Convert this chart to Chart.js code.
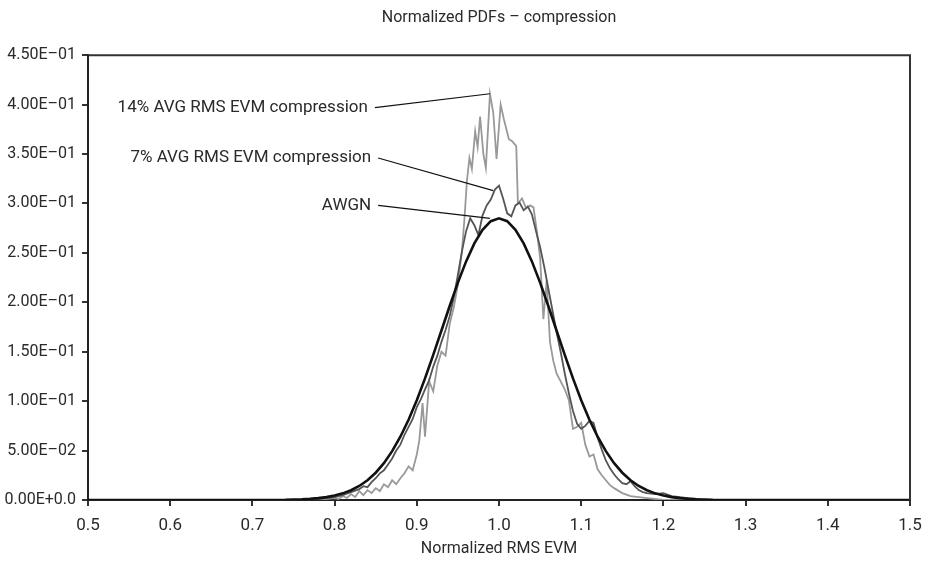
<!DOCTYPE html>
<html>
<head>
<meta charset="utf-8">
<script src="https://cdn.jsdelivr.net/npm/chart.js@4.4.1/dist/chart.umd.min.js"></script>
<style>
  html, body { margin: 0; padding: 0; background: #fff; }
  #wrap { width: 925px; height: 581px; position: relative; }
</style>
</head>
<body>
<div id="wrap"><canvas id="c" width="925" height="581"></canvas></div>
<script>
// --- data ---
var xTickLabels = ['0.5', '0.6', '0.7', '0.8', '0.9', '1.0', '1.1', '1.2', '1.3', '1.4', '1.5'];
var yTickLabels = ['0.00E+0.0', '5.00E\u201302', '1.00E\u201301', '1.50E\u201301', '2.00E\u201301',
  '2.50E\u201301', '3.00E\u201301', '3.50E\u201301', '4.00E\u201301', '4.50E\u201301'];

var awgnX = [0.5, 0.74, 0.75, 0.76, 0.77, 0.78, 0.79, 0.80, 0.81, 0.82, 0.83, 0.84, 0.85, 0.86, 0.87, 0.88, 0.89,
  0.90, 0.91, 0.92, 0.93, 0.94, 0.95, 0.96, 0.97, 0.98, 0.99, 1.00, 1.01, 1.02, 1.03, 1.04, 1.05, 1.06, 1.07,
  1.08, 1.09, 1.10, 1.11, 1.12, 1.13, 1.14, 1.15, 1.16, 1.17, 1.18, 1.19, 1.20, 1.21, 1.22, 1.23, 1.24, 1.25, 1.26, 1.5];
var awgnY = [0, 0.0002, 0.0004, 0.0007, 0.0012, 0.0019, 0.0029, 0.0045, 0.0067, 0.0099, 0.0142, 0.0200, 0.0276,
  0.0373, 0.0494, 0.0640, 0.0812, 0.1010, 0.1230, 0.1468, 0.1715, 0.1963, 0.2199, 0.2414, 0.2596, 0.2734, 0.2821,
  0.2850, 0.2821, 0.2734, 0.2596, 0.2414, 0.2199, 0.1963, 0.1715, 0.1468, 0.1230, 0.1010, 0.0812, 0.0640, 0.0494,
  0.0373, 0.0276, 0.0200, 0.0142, 0.0099, 0.0067, 0.0045, 0.0029, 0.0019, 0.0012, 0.0007, 0.0004, 0.0002, 0];

var evm7X = [0.5, 0.76, 0.78, 0.79, 0.80, 0.81, 0.82, 0.83, 0.835, 0.84, 0.845, 0.85, 0.855, 0.86, 0.865, 0.87,
  0.875, 0.88, 0.885, 0.89, 0.895, 0.90, 0.905, 0.91, 0.915, 0.92, 0.925, 0.93, 0.935, 0.94, 0.945, 0.95, 0.955,
  0.96, 0.965, 0.97, 0.975, 0.98, 0.985, 0.99, 0.995, 1.0, 1.005, 1.01, 1.015, 1.02, 1.025, 1.03, 1.035, 1.04,
  1.045, 1.05, 1.055, 1.06, 1.065, 1.07, 1.075, 1.08, 1.085, 1.09, 1.095, 1.10, 1.105, 1.11, 1.115, 1.12, 1.125,
  1.13, 1.135, 1.14, 1.145, 1.15, 1.155, 1.16, 1.165, 1.17, 1.175, 1.18, 1.19, 1.20, 1.21, 1.22, 1.23, 1.24, 1.25, 1.5];
var evm7Y = [0, 0, 0.001, 0.002, 0.003, 0.005, 0.008, 0.011, 0.014, 0.013, 0.018, 0.022, 0.027, 0.030, 0.036, 0.042,
  0.050, 0.056, 0.066, 0.074, 0.082, 0.094, 0.102, 0.112, 0.121, 0.135, 0.146, 0.160, 0.172, 0.186, 0.205, 0.228, 0.252,
  0.272, 0.285, 0.278, 0.268, 0.288, 0.298, 0.304, 0.314, 0.318, 0.305, 0.290, 0.287, 0.298, 0.301, 0.293, 0.297, 0.289,
  0.272, 0.256, 0.236, 0.214, 0.192, 0.170, 0.150, 0.128, 0.108, 0.090, 0.077, 0.072, 0.075, 0.080, 0.078, 0.063, 0.051,
  0.040, 0.032, 0.026, 0.021, 0.017, 0.016, 0.019, 0.014, 0.010, 0.008, 0.007, 0.006, 0.007, 0.004, 0.003, 0.002, 0.001, 0, 0];

var evm14X = [0.5, 0.78, 0.80, 0.805, 0.81, 0.815, 0.82, 0.825, 0.83, 0.835, 0.84, 0.845, 0.85, 0.855, 0.86, 0.865,
  0.87, 0.875, 0.88, 0.885, 0.89, 0.895, 0.90, 0.903, 0.907, 0.91, 0.915, 0.92, 0.925, 0.93, 0.935, 0.94, 0.945, 0.95,
  0.955, 0.958, 0.961, 0.964, 0.967, 0.971, 0.974, 0.977, 0.981, 0.984, 0.989, 0.993, 0.997, 1.002, 1.006, 1.009,
  1.012, 1.016, 1.021, 1.023, 1.028, 1.033, 1.038, 1.042, 1.046, 1.05, 1.054, 1.058, 1.062, 1.066, 1.07, 1.075, 1.08,
  1.085, 1.09, 1.095, 1.10, 1.105, 1.11, 1.115, 1.12, 1.125, 1.13, 1.135, 1.14, 1.15, 1.16, 1.17, 1.18, 1.19, 1.20, 1.5];
var evm14Y = [0, 0, 0.002, 0.001, 0.004, 0.002, 0.006, 0.003, 0.009, 0.005, 0.010, 0.007, 0.012, 0.009, 0.016, 0.013,
  0.020, 0.016, 0.022, 0.027, 0.034, 0.030, 0.046, 0.060, 0.098, 0.064, 0.120, 0.110, 0.136, 0.150, 0.146, 0.178, 0.195, 0.218,
  0.252, 0.285, 0.323, 0.346, 0.335, 0.373, 0.357, 0.388, 0.350, 0.336, 0.411, 0.392, 0.345, 0.400, 0.385, 0.375,
  0.365, 0.363, 0.358, 0.300, 0.305, 0.295, 0.298, 0.296, 0.272, 0.245, 0.183, 0.222, 0.160, 0.141, 0.128, 0.120, 0.112,
  0.101, 0.072, 0.074, 0.078, 0.056, 0.044, 0.046, 0.031, 0.025, 0.020, 0.015, 0.012, 0.007, 0.004, 0.003, 0.002, 0.001, 0, 0];

// callout labels with leader lines (data coordinates)
var callouts = [
  { text: '14% AVG RMS EVM compression', from: [0.849, 0.397], to: [0.989, 0.411] },
  { text: '7% AVG RMS EVM compression', from: [0.853, 0.346], to: [0.993, 0.313] },
  { text: 'AWGN', from: [0.853, 0.298], to: [0.989, 0.285] }
];

function pts(xs, ys) {
  return xs.map(function (x, i) { return { x: x, y: ys[i] }; });
}

var FONT = 'Roboto, "Liberation Sans", sans-serif';
var INK = '#2a2a2a';

// frame + callouts
var extrasPlugin = {
  id: 'extras',
  afterDatasetsDraw: function (chart) {
    var ctx = chart.ctx, a = chart.chartArea;
    var xs = chart.scales.x, ys = chart.scales.y;
    ctx.save();
    ctx.strokeStyle = '#333';
    ctx.lineWidth = 2;
    ctx.beginPath();
    ctx.moveTo(a.left, a.top);
    ctx.lineTo(a.right, a.top);
    ctx.lineTo(a.right, a.bottom);
    ctx.stroke();

    ctx.font = '17px ' + FONT;
    ctx.fillStyle = INK;
    ctx.textAlign = 'right';
    ctx.textBaseline = 'middle';
    ctx.lineWidth = 1.2;
    ctx.strokeStyle = '#111';
    callouts.forEach(function (c) {
      var x0 = xs.getPixelForValue(c.from[0]), y0 = ys.getPixelForValue(c.from[1]);
      var x1 = xs.getPixelForValue(c.to[0]), y1 = ys.getPixelForValue(c.to[1]);
      ctx.beginPath();
      ctx.moveTo(x0, y0);
      ctx.lineTo(x1, y1);
      ctx.stroke();
      ctx.fillText(c.text, x0 - 7, y0);
    });
    ctx.restore();
  }
};

new Chart(document.getElementById('c'), {
  type: 'line',
  plugins: [extrasPlugin],
  data: {
    datasets: [
      { label: 'AWGN', data: pts(awgnX, awgnY), borderColor: '#111', borderWidth: 2.6, order: 0 },
      { label: '7% AVG RMS EVM compression', data: pts(evm7X, evm7Y), borderColor: '#555', borderWidth: 1.8, order: 1 },
      { label: '14% AVG RMS EVM compression', data: pts(evm14X, evm14Y), borderColor: '#999', borderWidth: 1.8, order: 2 }
    ]
  },
  options: {
    responsive: false,
    animation: false,
    events: [],
    layout: { padding: { left: 0, right: 15, top: 0, bottom: 0 } },
    elements: { point: { radius: 0 }, line: { tension: 0, fill: false } },
    plugins: {
      legend: { display: false },
      tooltip: { enabled: false },
      title: {
        display: true,
        fullSize: false,
        text: 'Normalized PDFs \u2013 compression',
        color: INK,
        font: { family: FONT, size: 16, weight: 'normal' },
        padding: { top: 8, bottom: 28 }
      }
    },
    scales: {
      x: {
        type: 'linear',
        min: 0.5,
        max: 1.5,
        afterFit: function (s) { s.height = 81; s.paddingLeft = 0; s.paddingRight = 0; },
        ticks: {
          stepSize: 0.1,
          color: INK,
          padding: 10,
          maxRotation: 0,
          font: { family: FONT, size: 17 },
          callback: function (v, i) { return xTickLabels[i]; }
        },
        grid: { drawOnChartArea: false, tickLength: 6, color: '#333', lineWidth: 2 },
        border: { display: true, color: '#222', width: 2 },
        title: {
          display: true,
          text: 'Normalized RMS EVM',
          color: INK,
          font: { family: FONT, size: 16 },
          padding: { top: 0, bottom: 22 }
        }
      },
      y: {
        min: 0,
        max: 0.45,
        afterFit: function (s) { s.width = 88; },
        ticks: {
          stepSize: 0.05,
          color: INK,
          padding: 6,
          font: { family: FONT, size: 16 },
          callback: function (v, i) { return yTickLabels[i]; }
        },
        grid: { drawOnChartArea: false, tickLength: 6, color: '#333', lineWidth: 2 },
        border: { display: true, color: '#222', width: 2 }
      }
    }
  }
});
</script>
</body>
</html>
